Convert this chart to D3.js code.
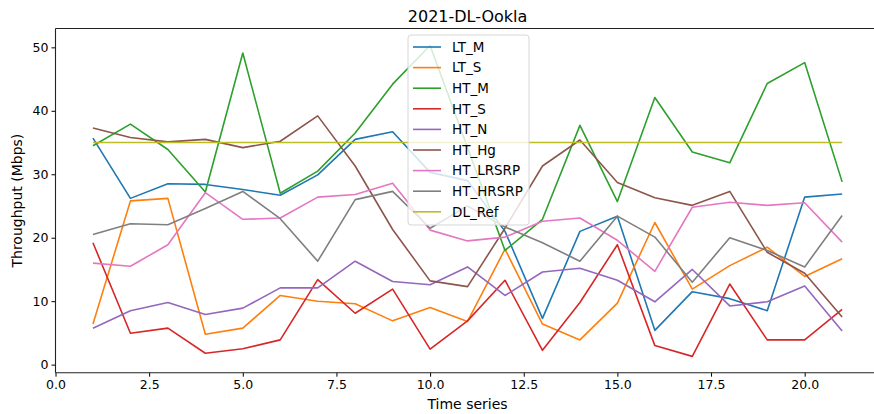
<!DOCTYPE html>
<html>
<head>
<meta charset="utf-8">
<script src="https://cdn.jsdelivr.net/npm/d3@7"></script>
<style>
  html, body { margin: 0; padding: 0; background: #fff; }
  svg { display: block; font-family: "DejaVu Sans", sans-serif; }
</style>
</head>
<body>
<svg id="chart" width="874" height="414"></svg>
<script>
const timeSeries = d3.range(1, 22);
const seriesNames = ["LT_M", "LT_S", "HT_M", "HT_S", "HT_N", "HT_Hg", "HT_LRSRP", "HT_HRSRP", "DL_Ref"];
const colors = ["#1f77b4", "#ff7f0e", "#2ca02c", "#d62728", "#9467bd", "#8c564b", "#e377c2", "#7f7f7f", "#bcbd22"];

const LT_M     = [35.7, 26.2, 28.5, 28.4, 27.6, 26.7, 29.9, 35.5, 36.7, 30.3, 29.0, 21.0, 7.3, 21.0, 23.4, 5.4, 11.5, 10.4, 8.5, 26.4, 26.9];
const LT_S     = [6.4, 25.8, 26.2, 4.8, 5.75, 10.9, 10.0, 9.6, 6.9, 9.0, 6.8, 18.2, 6.4, 3.9, 9.7, 22.4, 11.9, 15.6, 18.5, 13.9, 16.7];
const HT_M     = [34.5, 37.9, 33.9, 27.2, 49.1, 27.0, 30.5, 36.5, 44.2, 50.3, 34.2, 18.0, 22.9, 37.7, 25.7, 42.1, 33.5, 31.8, 44.3, 47.6, 28.8];
const HT_S     = [19.2, 4.95, 5.75, 1.8, 2.5, 3.9, 13.4, 8.1, 11.9, 2.45, 6.9, 13.3, 2.25, 9.8, 18.9, 3.0, 1.3, 12.7, 3.9, 3.9, 8.7];
const HT_N     = [5.75, 8.5, 9.8, 7.9, 8.9, 12.1, 12.1, 16.3, 13.1, 12.6, 15.4, 10.9, 14.6, 15.2, 13.3, 9.9, 15.0, 9.25, 9.9, 12.4, 5.3];
const HT_Hg    = [37.3, 35.8, 35.1, 35.5, 34.2, 35.2, 39.2, 31.3, 21.3, 13.2, 12.3, 21.5, 31.3, 35.4, 28.7, 26.3, 25.1, 27.3, 17.7, 14.4, 7.5];
const HT_LRSRP = [16.0, 15.5, 18.9, 27.1, 22.9, 23.1, 26.4, 26.8, 28.6, 21.2, 19.5, 20.1, 22.6, 23.1, 19.6, 14.7, 24.8, 25.6, 25.1, 25.5, 19.3];
const HT_HRSRP = [20.5, 22.2, 22.05, 24.6, 27.3, 23.0, 16.3, 26.0, 27.3, 21.5, 25.0, 21.7, 19.2, 16.3, 23.4, 20.1, 13.0, 20.0, 18.0, 15.4, 23.5];
const DL_Ref   = [35, 35, 35, 35, 35, 35, 35, 35, 35, 35, 35, 35, 35, 35, 35, 35, 35, 35, 35, 35, 35];

const xTicks = [0.0, 2.5, 5.0, 7.5, 10.0, 12.5, 15.0, 17.5, 20.0];
const yTicks = [0, 10, 20, 30, 40, 50];
const titleText = "2021-DL-Ookla";
const xLabel = "Time series";
const yLabel = "Throughput (Mbps)";

const seriesValues = [LT_M, LT_S, HT_M, HT_S, HT_N, HT_Hg, HT_LRSRP, HT_HRSRP, DL_Ref];

(function () {
const svg = d3.select("#chart");
const pL = 55.5, pT = 28.5, pB = 372.7, pR = 879.6;

const x = d3.scaleLinear().domain([0, 22]).range([pL, pR]);
const y = d3.scaleLinear().domain([-1.27, 52.97]).range([pB, pT]);

svg.append("defs").append("clipPath").attr("id", "clip")
  .append("rect").attr("x", pL).attr("y", pT).attr("width", pR - pL).attr("height", pB - pT);

const line = d3.line().x((d, i) => x(timeSeries[i])).y(d => y(d));

const plot = svg.append("g").attr("clip-path", "url(#clip)");
seriesValues.forEach((vals, k) => {
  plot.append("path")
    .datum(vals)
    .attr("fill", "none")
    .attr("stroke", colors[k])
    .attr("stroke-width", 1.6)
    .attr("stroke-linejoin", "round")
    .attr("d", line);
});

const xAxis = d3.axisBottom(x).tickValues(xTicks).tickFormat(d3.format(".1f")).tickSize(4).tickPadding(3);
const yAxis = d3.axisLeft(y).tickValues(yTicks).tickFormat(d3.format("d")).tickSize(4).tickPadding(3);

const gx = svg.append("g").attr("transform", `translate(0,${pB})`).call(xAxis);
const gy = svg.append("g").attr("transform", `translate(${pL},0)`).call(yAxis);
[gx, gy].forEach(g => {
  g.select(".domain").remove();
  g.selectAll("line").attr("stroke", "#000").attr("stroke-width", 1);
  g.selectAll("text").attr("fill", "#000").style("font-size", "12.5px").style("font-family", "DejaVu Sans, sans-serif");
});

svg.append("line").attr("x1", pL).attr("x2", pL).attr("y1", pT).attr("y2", pB).attr("stroke", "#222").attr("stroke-width", 1.1);
svg.append("line").attr("x1", pL).attr("x2", pR).attr("y1", pB).attr("y2", pB).attr("stroke", "#222").attr("stroke-width", 1.1);
svg.append("line").attr("x1", pL).attr("x2", pR).attr("y1", pT).attr("y2", pT).attr("stroke", "#222").attr("stroke-width", 1.1);

svg.append("text").attr("x", (pL + pR) / 2).attr("y", 21.5).attr("text-anchor", "middle")
  .style("font-size", "16px").attr("fill", "#000").text(titleText);
svg.append("text").attr("x", (pL + pR) / 2).attr("y", 409).attr("text-anchor", "middle")
  .style("font-size", "14px").attr("fill", "#000").text(xLabel);
svg.append("text").attr("transform", `translate(22,${(pT + pB) / 2}) rotate(-90)`).attr("text-anchor", "middle")
  .style("font-size", "14px").attr("fill", "#000").text(yLabel);

const lg = svg.append("g").attr("transform", "translate(408,35)");
lg.append("rect").attr("width", 121).attr("height", 190).attr("rx", 3)
  .attr("fill", "#fff").attr("fill-opacity", 0.8).attr("stroke", "#d6d6d6").attr("stroke-width", 1);
seriesNames.forEach((name, k) => {
  const yy = 12 + k * 20.6;
  lg.append("line").attr("x1", 5).attr("x2", 33).attr("y1", yy).attr("y2", yy)
    .attr("stroke", colors[k]).attr("stroke-width", 1.6);
  lg.append("text").attr("x", 44).attr("y", yy + 4.8).style("font-size", "13.5px").attr("fill", "#000").text(name);
});
})();
</script>
</body>
</html>
